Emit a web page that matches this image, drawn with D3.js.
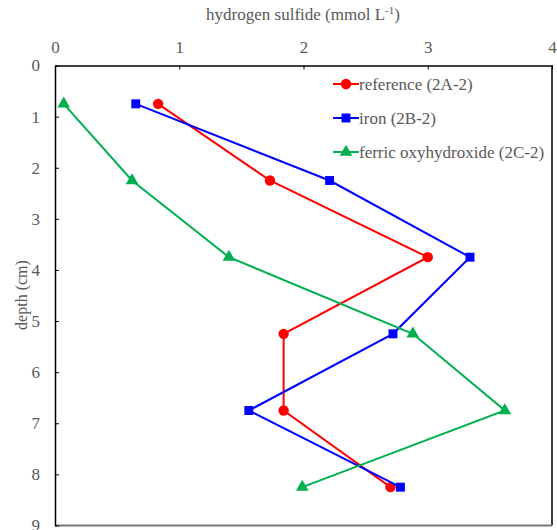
<!DOCTYPE html>
<html>
<meta charset="utf-8">
<title>Hydrogen sulfide profile</title>
<style>
  html, body { margin: 0; padding: 0; background: #fff; }
</style>
<body>
<div id="chart"></div>
<script src="https://cdn.jsdelivr.net/npm/d3@7"></script>
<script>
// depth of each sample (cm)
var depths = [0.75, 2.25, 3.75, 5.25, 6.75, 8.25];
// hydrogen sulfide (mmol L-1)
var reference = [0.83, 1.73, 3.00, 1.84, 1.84, 2.70];
var iron      = [0.65, 2.21, 3.34, 2.72, 1.56, 2.78];
var ferric    = [0.07, 0.62, 1.40, 2.88, 3.62, 1.99];
var xTicks = [0, 1, 2, 3, 4];
var yTicks = [0, 1, 2, 3, 4, 5, 6, 7, 8, 9];

var series = [
  { name: "reference (2A-2)", values: reference, color: "#ff0000", shape: d3.symbolCircle, size: 85 },
  { name: "iron (2B-2)", values: iron, color: "#0000ff", shape: d3.symbolSquare, size: 80 },
  { name: "ferric oxyhydroxide (2C-2)", values: ferric, color: "#00b050", shape: d3.symbolTriangle, size: 70 }
];

var FONT = "Liberation Serif";
var TEXT = "#595959";
var W = 557, H = 530;
var margin = { top: 65.5, right: 5, bottom: 4.5, left: 55 };

var svg = d3.select("#chart").append("svg")
  .attr("width", W).attr("height", H)
  .attr("font-family", FONT);

var x = d3.scaleLinear().domain([0, 4]).range([margin.left, W - margin.right]);
var y = d3.scaleLinear().domain([0, 9]).range([margin.top, H - margin.bottom]);

// plot frame
svg.append("line")
  .attr("x1", x(4)).attr("x2", x(4)).attr("y1", y(0)).attr("y2", y(9))
  .attr("stroke", "#000").attr("stroke-width", 1.5);
svg.append("line")
  .attr("x1", x(0)).attr("x2", x(4)).attr("y1", y(9)).attr("y2", y(9))
  .attr("stroke", "#777").attr("stroke-width", 2);

var fmt = d3.format("d");
var xAxis = svg.append("g")
  .attr("transform", "translate(0," + y(0) + ")")
  .call(d3.axisTop(x).tickValues(xTicks).tickFormat(fmt).tickSizeInner(-4).tickSizeOuter(0).tickPadding(13));
var yAxis = svg.append("g")
  .attr("transform", "translate(" + x(0) + ",0)")
  .call(d3.axisLeft(y).tickValues(yTicks).tickFormat(fmt).tickSizeInner(-4).tickSizeOuter(0).tickPadding(15));

[xAxis, yAxis].forEach(function(ax) {
  ax.attr("font-family", FONT).attr("font-size", 17);
  ax.select(".domain").attr("stroke", "#000").attr("stroke-width", 1.5);
  ax.selectAll(".tick line").attr("stroke", "#000");
  ax.selectAll(".tick text")
    .attr("font-family", FONT)
    .attr("font-size", 17)
    .attr("fill", TEXT);
});

// axis titles
var xt = svg.append("text")
  .attr("x", 303).attr("y", 20)
  .attr("text-anchor", "middle")
  .attr("fill", TEXT)
  .attr("font-family", FONT)
  .attr("font-size", 17);
xt.append("tspan").text("hydrogen sulfide (mmol L");
xt.append("tspan").attr("dy", -6).attr("font-size", 11).text("-1");
xt.append("tspan").attr("dy", 6).text(")");

svg.append("text")
  .attr("transform", "translate(27," + 295 + ") rotate(-90)")
  .attr("text-anchor", "middle")
  .attr("fill", TEXT)
  .attr("font-family", FONT)
  .attr("font-size", 16)
  .text("depth (cm)");

// lines and markers
var line = d3.line()
  .x(function(d) { return x(d[0]); })
  .y(function(d) { return y(d[1]); });

series.forEach(function(s) {
  var pts = s.values.map(function(v, i) { return [v, depths[i]]; });
  svg.append("path")
    .datum(pts)
    .attr("fill", "none")
    .attr("stroke", s.color)
    .attr("stroke-width", 2)
    .attr("d", line);
  svg.append("g").selectAll("path")
    .data(pts)
    .enter().append("path")
    .attr("transform", function(d) { return "translate(" + x(d[0]) + "," + y(d[1]) + ")"; })
    .attr("d", d3.symbol().type(s.shape).size(s.size))
    .attr("fill", s.color);
});

// legend
var legend = svg.append("g").attr("transform", "translate(333,84)");
series.forEach(function(s, i) {
  var g = legend.append("g").attr("transform", "translate(0," + i * 34 + ")");
  g.append("line").attr("x1", 0).attr("x2", 26).attr("y1", 0).attr("y2", 0)
    .attr("stroke", s.color).attr("stroke-width", 2);
  g.append("path").attr("transform", "translate(13,0)")
    .attr("d", d3.symbol().type(s.shape).size(s.size)).attr("fill", s.color);
  g.append("text").attr("x", 26).attr("y", 6)
    .attr("fill", TEXT)
    .attr("font-family", FONT)
    .attr("font-size", 17)
    .text(s.name);
});
</script>
</body>
</html>
